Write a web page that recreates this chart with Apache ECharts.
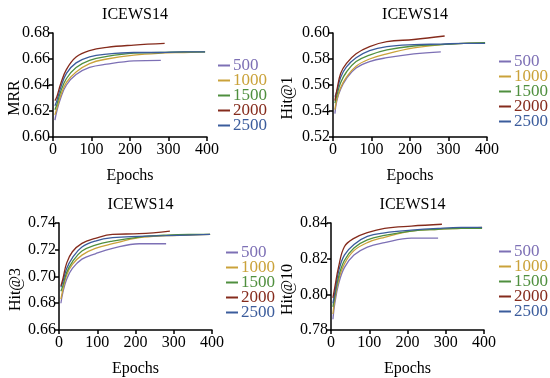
<!DOCTYPE html>
<html><head><meta charset="utf-8">
<script src="https://cdn.jsdelivr.net/npm/echarts@6/dist/echarts.min.js"></script>
<style>html,body{margin:0;padding:0;background:#fff}#c{width:550px;height:378px}</style>
</head><body><div id="c"></div>
<script>
const seriesNames = ['500','1000','1500','2000','2500'];
const colors = ['#7d70b5','#caa23a','#4f8f3e','#852b1c','#3b5c9c'];
const epochsLong = [5,10,20,35,60,95,140,210,280,340,395];
const epochs500 = [5,10,20,35,60,95,140,210,280];
const epochs2000 = [5,10,20,35,60,95,140,210,290];
const panelTitles = ['ICEWS14','ICEWS14','ICEWS14','ICEWS14'];
const yNames = ['MRR','Hit@1','Hit@3','Hit@10'];
const yTicks = [[0.60,0.68,0.02],[0.52,0.60,0.02],[0.66,0.74,0.02],[0.78,0.84,0.02]];
// MRR
const mrr500  = [0.613,0.620,0.630,0.640,0.648,0.6535,0.656,0.6585,0.659];
const mrr1000 = [0.617,0.622,0.632,0.642,0.650,0.6565,0.660,0.663,0.6645,0.665,0.6655];
const mrr1500 = [0.621,0.625,0.635,0.645,0.6535,0.659,0.662,0.6645,0.665,0.6655,0.6655];
const mrr2000 = [0.628,0.631,0.641,0.652,0.6615,0.6665,0.669,0.6707,0.672];
const mrr2500 = [0.624,0.628,0.638,0.649,0.657,0.6617,0.6638,0.665,0.665,0.6655,0.6655];
// Hit@1
const h1_500  = [0.538,0.548,0.557,0.565,0.573,0.578,0.581,0.584,0.5855];
const h1_1000 = [0.541,0.549,0.558,0.566,0.5745,0.580,0.584,0.5885,0.591,0.592,0.5925];
const h1_1500 = [0.546,0.552,0.562,0.570,0.578,0.583,0.587,0.590,0.591,0.592,0.5925];
const h1_2000 = [0.548,0.556,0.569,0.5766,0.584,0.5895,0.5933,0.595,0.5977];
const h1_2500 = [0.551,0.555,0.566,0.574,0.581,0.5865,0.5895,0.591,0.5915,0.592,0.592];
// Hit@3
const h3_500  = [0.680,0.688,0.698,0.706,0.713,0.717,0.721,0.7245,0.7245];
const h3_1000 = [0.683,0.690,0.701,0.709,0.716,0.721,0.7245,0.729,0.7305,0.731,0.7315];
const h3_1500 = [0.689,0.693,0.703,0.711,0.719,0.7235,0.7265,0.7295,0.731,0.7315,0.7315];
const h3_2000 = [0.693,0.698,0.710,0.7185,0.7248,0.7285,0.7315,0.732,0.734];
const h3_2500 = [0.692,0.696,0.706,0.714,0.722,0.7265,0.729,0.730,0.7305,0.731,0.7315];
// Hit@10
const h10_500  = [0.786,0.795,0.806,0.815,0.822,0.8265,0.829,0.8315,0.8315];
const h10_1000 = [0.789,0.797,0.808,0.817,0.8245,0.829,0.832,0.8355,0.8365,0.837,0.8375];
const h10_1500 = [0.793,0.799,0.810,0.819,0.826,0.8305,0.833,0.8355,0.8365,0.837,0.837];
const h10_2000 = [0.798,0.804,0.8155,0.8267,0.8314,0.8346,0.837,0.8383,0.8393];
const h10_2500 = [0.795,0.801,0.813,0.822,0.828,0.8325,0.8345,0.836,0.837,0.8375,0.8375];

const panels = [
  [mrr500,mrr1000,mrr1500,mrr2000,mrr2500],
  [h1_500,h1_1000,h1_1500,h1_2000,h1_2500],
  [h3_500,h3_1000,h3_1500,h3_2000,h3_2500],
  [h10_500,h10_1000,h10_1500,h10_2000,h10_2500]
];
const epochSets = [epochs500, epochsLong, epochsLong, epochs2000, epochsLong];

const grids = [
  {left:53, width:154, top:33, height:104, outerBoundsMode:'none'},
  {left:333, width:154, top:33, height:104, outerBoundsMode:'none'},
  {left:59, width:153, top:223, height:107, outerBoundsMode:'none'},
  {left:331, width:153, top:223, height:107, outerBoundsMode:'none'}
];
const legendPos = [
  {left:213, top:52},
  {left:494, top:48},
  {left:221, top:239},
  {left:494, top:238}
];
const yNameGap = [30, 37, 35, 35];
const font = 'Liberation Serif';
const option = {
  animation:false,
  backgroundColor:'#fff',
  title: grids.map((g,i)=>({text:panelTitles[i], left:g.left+g.width/2, top:g.top-31, textAlign:'center',
    textStyle:{fontFamily:font,fontSize:16,fontWeight:'normal',color:'#000'}})),
  grid: grids,
  legend: grids.map((g,i)=>({orient:'vertical', left:legendPos[i].left, top:legendPos[i].top,
    itemWidth:12, itemHeight:2, itemGap:-2, icon:'rect',
    textStyle:{fontFamily:font,fontSize:17,lineHeight:14.5, padding:[0,0,0,-2]},
    data: seriesNames.map((n,k)=>({name:n, textStyle:{color:colors[k]}}))
  })),
  xAxis: grids.map((g,i)=>({type:'value', gridIndex:i, min:0, max:400, interval:100,
    name:'Epochs', nameLocation:'middle', nameGap:31, nameMoveOverlap:false,
    nameTextStyle:{fontFamily:font,fontSize:16,color:'#000'},
    axisLine:{show:true,lineStyle:{color:'#000',width:1.5}},
    axisTick:{show:true,length:4,lineStyle:{color:'#000',width:1.5}},
    axisLabel:{fontFamily:font,fontSize:16,color:'#000',margin:5},
    splitLine:{show:false}})),
  yAxis: grids.map((g,i)=>({type:'value', gridIndex:i, min:yTicks[i][0], max:yTicks[i][1], interval:yTicks[i][2],
    name:yNames[i], nameLocation:'middle', nameGap:yNameGap[i], nameMoveOverlap:false,
    nameTextStyle:{fontFamily:font,fontSize:16,color:'#000',padding:[0,26,0,0]},
    axisLine:{show:true,lineStyle:{color:'#000',width:1.5}},
    axisTick:{show:true,length:4,lineStyle:{color:'#000',width:1.5}},
    axisLabel:{fontFamily:font,fontSize:16,color:'#000',margin:3,formatter:v=>v.toFixed(2)},
    splitLine:{show:false}})),
  series: []
};
panels.forEach((vals,i)=>{
  vals.forEach((arr,k)=>{
    option.series.push({type:'line', name:seriesNames[k], xAxisIndex:i, yAxisIndex:i,
      data: arr.map((v,j)=>[epochSets[k][j], v]), smooth:0.4, showSymbol:false, symbol:'none',
      lineStyle:{width:1.3,color:colors[k]}, itemStyle:{color:colors[k]}, z:k===3?5:2});
  });
});
const chart = echarts.init(document.getElementById('c'));
chart.setOption(option);
</script></body></html>
